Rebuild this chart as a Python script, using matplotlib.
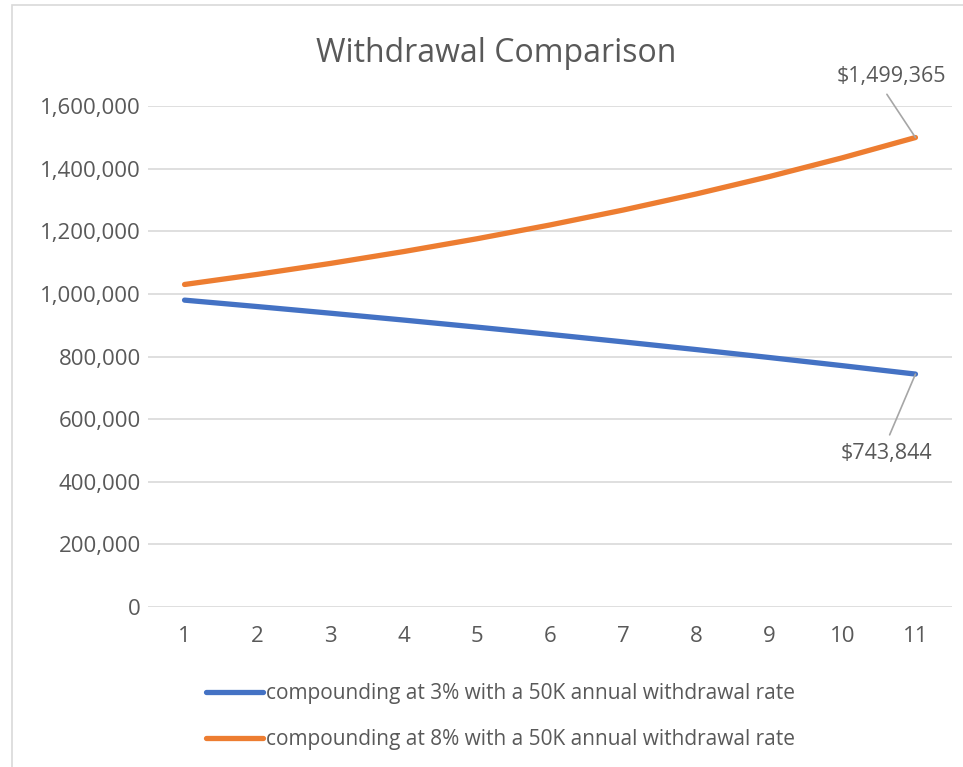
import matplotlib.pyplot as plt
from matplotlib.patches import Rectangle
from matplotlib.ticker import FuncFormatter

years = [1, 2, 3, 4, 5, 6, 7, 8, 9, 10, 11]
balance_3pct = [980000, 959400, 938182, 916327, 893817, 870631,
                846750, 822152, 796817, 770721, 743844]
balance_8pct = [1030000, 1062400, 1097392, 1135183, 1175998, 1220078,
                1267684, 1319099, 1374627, 1434597, 1499365]
label_3pct = "compounding at 3% with a 50K annual withdrawal rate"
label_8pct = "compounding at 8% with a 50K annual withdrawal rate"

plt.rcParams['font.family'] = ['Open Sans', 'DejaVu Sans']
text_color = '#595959'

fig = plt.figure(figsize=(9.63, 7.67), dpi=100)
# chart area border
fig.patches.append(Rectangle((12 / 963, -0.1), 1.2, 1.1 - 5 / 767,
                             transform=fig.transFigure, fill=False,
                             edgecolor='#D9D9D9', linewidth=1.2))

ax = fig.add_axes([148 / 963, 1 - 607 / 767, (952 - 148) / 963, (607 - 106) / 767])

l1, = ax.plot(years, balance_3pct, color='#4472C4', linewidth=3.8,
              solid_capstyle='round', label=label_3pct, zorder=3)
l2, = ax.plot(years, balance_8pct, color='#ED7D31', linewidth=3.8,
              solid_capstyle='round', label=label_8pct, zorder=3)

ax.set_xlim(0.5, 11.5)
ax.set_ylim(0, 1600000)
ax.set_xticks(years)
ax.set_yticks(range(0, 1600001, 200000))
ax.yaxis.set_major_formatter(FuncFormatter(lambda v, p: f"{int(v):,}"))
ax.grid(axis='y', color='#D9D9D9', linewidth=1.2)
ax.set_axisbelow(True)
for s in ax.spines.values():
    s.set_visible(False)
ax.tick_params(length=0, labelsize=16, labelcolor=text_color)
ax.tick_params(axis='y', pad=5)
ax.tick_params(axis='x', pad=14)

# data labels with leader lines
ax.annotate(f"${balance_8pct[-1]:,}", xy=(years[-1], balance_8pct[-1]),
            xytext=(-17, 44), textcoords='offset points', ha='center', va='center',
            fontsize=15.5, color=text_color,
            arrowprops=dict(arrowstyle='-', color='#A6A6A6', lw=1.2, shrinkA=4,
                            shrinkB=0, relpos=(0.41, 0)))
ax.annotate(f"${balance_3pct[-1]:,}", xy=(years[-1], balance_3pct[-1]),
            xytext=(-21, -57), textcoords='offset points', ha='center', va='center',
            fontsize=15.5, color=text_color,
            arrowprops=dict(arrowstyle='-', color='#A6A6A6', lw=1.2, shrinkA=4,
                            shrinkB=0, relpos=(0.5, 1)))

fig.text(496 / 963, 1 - 53 / 767, "Withdrawal Comparison", ha='center', va='center',
         fontsize=23, color=text_color)

fig.legend(handles=[l1, l2], loc='upper left', bbox_to_anchor=(198 / 963, 1 - 675 / 767),
           frameon=False, fontsize=15, labelcolor=text_color, handlelength=2.74,
           handletextpad=0.1, labelspacing=1.2, borderaxespad=0)

fig.savefig('out.png', dpi=100)
